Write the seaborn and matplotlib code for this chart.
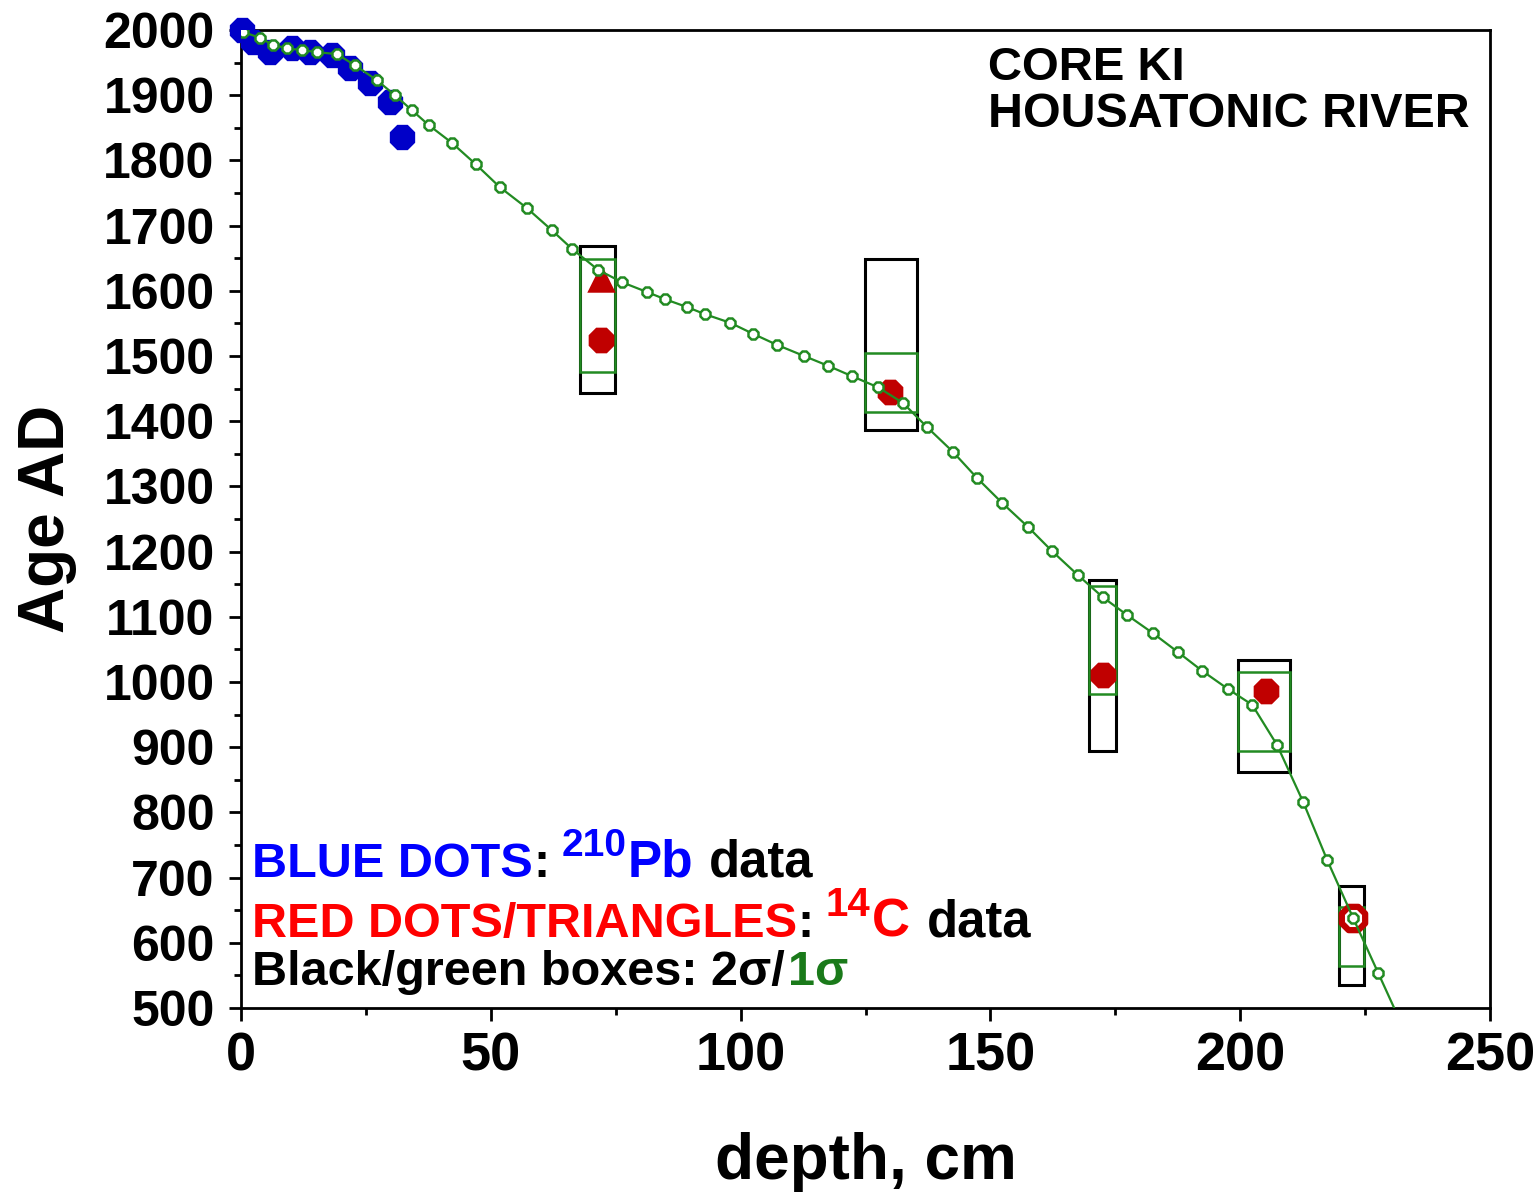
import numpy as np
import pandas as pd
import seaborn as sns
import matplotlib.pyplot as plt
from matplotlib.patches import Rectangle
from matplotlib.ticker import MultipleLocator

# 210Pb ages (blue dots)
pb_depth = [0.2, 2.4, 5.8, 10.2, 13.8, 18.2, 21.8, 25.8, 29.8, 32.2]
pb_age = [2000, 1982, 1966, 1972, 1966, 1962, 1942, 1919, 1890, 1836]

# 14C dates (red dots, triangle, ring)
c14_depth = [72.0, 129.9, 172.5, 205.2]
c14_age = [1525, 1445, 1011, 986]
tri_depth = [72.0]
tri_age = [1620]
ring_depth = [222.6]
ring_age = [638]

# calibrated ranges: 2 sigma (black) and 1 sigma (green)
box_left = [67.9, 124.9, 169.7, 199.6, 219.8]
box_right = [74.9, 135.3, 175.1, 210.0, 224.8]
sig2_lo = [1443, 1386, 894, 862, 535]
sig2_hi = [1669, 1649, 1156, 1034, 687]
sig1_lo = [1475, 1414, 982, 894, 564]
sig1_hi = [1649, 1505, 1147, 1015, 655]

# age-depth model (green line)
model_depth = [0.4, 3.8, 6.4, 9.2, 12.2, 15.2, 19.2, 22.8, 27.2, 30.8, 34.2, 37.6,
               42.2, 47.0, 51.8, 57.2, 62.2, 66.3, 71.5, 76.3, 81.3, 84.9, 89.3,
               92.9, 97.9, 102.5, 107.3, 112.7, 117.5, 122.3, 127.5, 132.5, 137.3,
               142.5, 147.3, 152.3, 157.5, 162.3, 167.5, 172.5, 177.3, 182.5, 187.5,
               192.4, 197.6, 202.4, 207.4, 212.6, 217.4, 222.6, 227.6, 232.6]
model_age = [1997, 1988, 1977, 1972, 1969, 1966, 1963, 1946, 1923, 1900, 1877, 1854,
             1827, 1794, 1759, 1727, 1693, 1664, 1632, 1613, 1598, 1587, 1575,
             1564, 1551, 1534, 1517, 1500, 1485, 1469, 1452, 1428, 1391,
             1353, 1313, 1275, 1238, 1201, 1164, 1130, 1103, 1075, 1046,
             1017, 989, 965, 903, 816, 727, 638, 554, 470]

sns.set_theme(style="ticks")
plt.rcParams['font.family'] = ['Liberation Sans', 'DejaVu Sans']

green = '#228B22'
fig = plt.figure(figsize=(15.35, 11.95), dpi=100)
ax = fig.add_axes([0.157, 0.1565, 0.8137, 0.8184])

# boxes
for l, r, lo2, hi2, lo1, hi1 in zip(box_left, box_right, sig2_lo, sig2_hi, sig1_lo, sig1_hi):
    ax.add_patch(Rectangle((l, lo2), r - l, hi2 - lo2, fill=False, ec='black', lw=2.2, zorder=2))
    ax.add_patch(Rectangle((l, lo1), r - l, hi1 - lo1, fill=False, ec=green, lw=1.8, zorder=2))

sns.scatterplot(x=pb_depth, y=pb_age, ax=ax, color='#0000c8', marker='8', s=390,
                linewidth=0, zorder=3, clip_on=False)
sns.scatterplot(x=c14_depth, y=c14_age, ax=ax, color='#c00000', marker='8', s=400,
                linewidth=0, zorder=3)
sns.scatterplot(x=tri_depth, y=tri_age, ax=ax, color='#c00000', marker='^', s=420,
                linewidth=0, zorder=3)
ax.scatter(ring_depth, ring_age, marker='8', s=330, facecolor='white',
           edgecolor='#c00000', linewidth=4.5, zorder=3)

sns.lineplot(x=model_depth, y=model_age, ax=ax, sort=False, color=green, lw=1.6,
             marker='8', markersize=8.5, markerfacecolor='white',
             markeredgecolor=green, markeredgewidth=1.8, zorder=4)

ax.set_xlim(0, 250)
ax.set_ylim(500, 2000)
ax.xaxis.set_major_locator(MultipleLocator(50))
ax.xaxis.set_minor_locator(MultipleLocator(25))
ax.yaxis.set_major_locator(MultipleLocator(100))
ax.yaxis.set_minor_locator(MultipleLocator(50))
ax.tick_params(which='major', length=9, width=2, direction='out',
               color='black', labelcolor='black')
ax.tick_params(axis='y', which='major', pad=10, labelsize=36)
ax.tick_params(axis='x', which='major', pad=8, labelsize=39)
ax.tick_params(which='minor', length=5, width=2, direction='out', color='black')
for lbl in ax.get_xticklabels() + ax.get_yticklabels():
    lbl.set_fontweight('bold')
for sp in ax.spines.values():
    sp.set_linewidth(2)
    sp.set_color('black')
    sp.set_visible(True)

ax.set_xlabel('depth, cm', fontsize=46, fontweight='bold', color='black', va='top')
ax.xaxis.set_label_coords(0.5, -0.127)
ax.set_ylabel('Age AD', fontsize=46, fontweight='bold', color='black', va='center')
ax.yaxis.set_label_coords(-0.155, 0.5)

ax.text(0.598, 0.949, 'CORE KI', transform=ax.transAxes, fontsize=34,
        fontweight='bold', va='baseline', color='black')
ax.text(0.598, 0.901, 'HOUSATONIC RIVER', transform=ax.transAxes, fontsize=34.8,
        fontweight='bold', va='baseline', color='black')


def write_line(y, pieces):
    t = None
    for txt, col, size, dx, rise in pieces:
        if t is None:
            t = ax.text(0.009, y, txt, transform=ax.transAxes, color=col, fontsize=size,
                        fontweight='bold', va='baseline', zorder=5)
        else:
            t = ax.annotate(txt, xy=(1, y), xycoords=(t, 'axes fraction'),
                            xytext=(dx, rise), textcoords='offset points',
                            color=col, fontsize=size, fontweight='bold',
                            va='baseline', ha='left', zorder=5)


write_line(0.134, [('BLUE DOTS', '#0000ff', 35, 0, 0), (':', 'black', 35, 0, 0),
                   ('210', '#0000ff', 28, 9, 15), ('Pb', '#0000ff', 37, 1, 0),
                   ('data', 'black', 36.5, 11, 0)])
write_line(0.0726, [('RED DOTS/TRIANGLES', '#ff0000', 35, 0, 0), (':', 'black', 35, 0, 0),
                    ('14', '#ff0000', 29, 9, 15), ('C', '#ff0000', 38, 1, 0),
                    ('data', 'black', 36.5, 12, 0)])
write_line(0.0235, [('Black/green boxes: 2σ/', 'black', 35, 0, 0),
                    ('1σ', '#1a7a1a', 35, 2, 0)])

fig.savefig('out.png', dpi=100)
